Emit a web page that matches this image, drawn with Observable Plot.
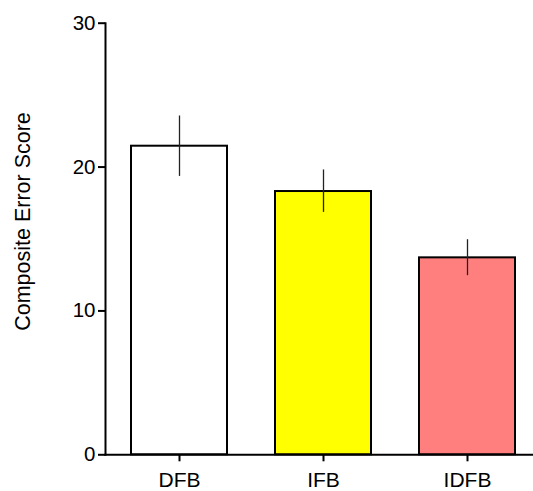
<!DOCTYPE html>
<html>
<head>
<meta charset="utf-8">
<script src="https://cdn.jsdelivr.net/npm/d3@7"></script>
<script src="https://cdn.jsdelivr.net/npm/@observablehq/plot@0.6"></script>
<style>
  body { margin: 0; background: white; }
  #chart svg { display: block; }
</style>
</head>
<body>
<div id="chart"></div>
<script>
const groups = ["DFB", "IFB", "IDFB"];
const means = [21.45, 18.3, 13.69];
const errLow = [19.35, 16.85, 12.45];
const errHigh = [23.55, 19.8, 14.95];
const fills = ["#ffffff", "#ffff00", "#ff7f7f"];
const yTicks = [0, 10, 20, 30];
const yLabel = "Composite Error Score";

const data = groups.map((g, i) => ({group: g, mean: means[i], lo: errLow[i], hi: errHigh[i], fill: fills[i]}));

const font = "Arial, 'Liberation Sans', Helvetica, sans-serif";

const chart = Plot.plot({
  width: 533,
  height: 491,
  marginLeft: 105,
  marginRight: 0,
  marginTop: 22.7,
  marginBottom: 36.7,
  style: {fontFamily: font, fontSize: "21px", color: "black", background: "white"},
  x: {domain: groups, range: [105, 540], paddingInner: 0.335, paddingOuter: 0.168, align: 0.5},
  y: {domain: [0, 30]},
  marks: [
    Plot.barY(data, {x: "group", y: "mean", fill: "fill", stroke: "black", strokeWidth: 2}),
    Plot.ruleX(data, {x: "group", y1: "lo", y2: "hi", stroke: "#222", strokeWidth: 1.3}),
    Plot.frame({anchor: "left", stroke: "black", strokeWidth: 2}),
    Plot.frame({anchor: "bottom", stroke: "black", strokeWidth: 2}),
    Plot.axisY({ticks: yTicks, tickSize: 7, tickPadding: 3, strokeWidth: 2, fontSize: 20.5, label: null}),
    Plot.axisX({tickSize: 7, tickPadding: 10, strokeWidth: 2, fontSize: 21, label: null}),
    Plot.text([yLabel], {frameAnchor: "left", text: d => d, rotate: -90, dx: -82, dy: -17.5, fontSize: 21.5, lineAnchor: "middle", textAnchor: "middle"})
  ]
});
document.getElementById("chart").append(chart);
</script>
</body>
</html>
